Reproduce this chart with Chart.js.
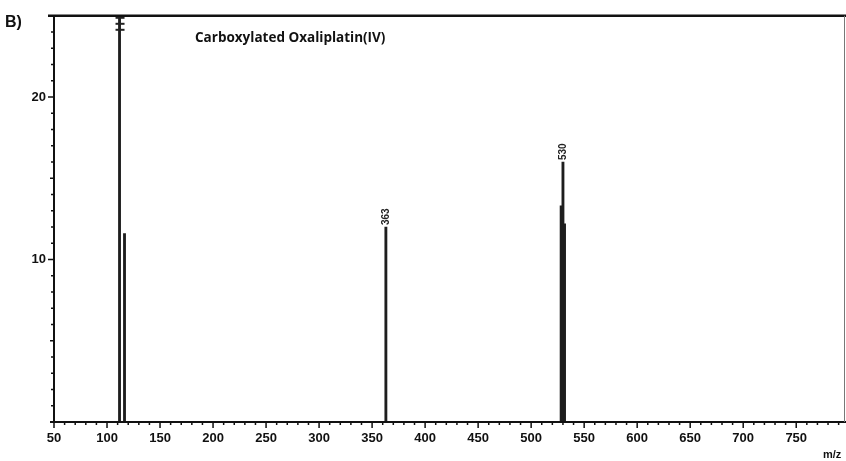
<!DOCTYPE html>
<html>
<head>
<meta charset="utf-8">
<style>
  html, body { margin: 0; padding: 0; background: #fff; }
  #wrap { width: 846px; height: 461px; position: relative; }
</style>
<script src="https://cdn.jsdelivr.net/npm/chart.js@4/dist/chart.umd.min.js"></script>
</head>
<body>
<div id="wrap"><canvas id="ms" width="846" height="461"></canvas></div>
<script>
// Mass spectrum peaks (m/z and relative intensity)
const mzValues = [111.8, 116.5, 363, 528.3, 530, 531.5];
const intensities = [100, 11.6, 12.0, 13.3, 16.0, 12.2];
// Peaks that carry an m/z annotation
const labelledPeaks = [363, 530];
// Peak running off the top of the scale (drawn with break marks)
const brokenPeak = 111.8;

const xMin = 50, xMax = 796, xMajor = 50, xMinor = 10;
const yMin = 0, yMax = 25, yMajor = 10, yMinor = 1;

const decorations = {
  id: 'decorations',
  afterDatasetsDraw(chart) {
    const ctx = chart.ctx;
    const xs = chart.scales.x, ys = chart.scales.y;
    const area = chart.chartArea;
    const meta = chart.getDatasetMeta(0);
    ctx.save();

    // peak annotations and break marks
    ctx.fillStyle = '#222';
    ctx.font = 'bold 10px "Liberation Sans", Arial, sans-serif';
    ctx.textAlign = 'left';
    ctx.textBaseline = 'middle';
    meta.data.forEach((bar, i) => {
      const mz = mzValues[i];
      if (labelledPeaks.includes(mz)) {
        ctx.save();
        ctx.translate(bar.x, bar.y - 2);
        ctx.rotate(-Math.PI / 2);
        ctx.fillText(String(mz), 0, 0);
        ctx.restore();
      }
      if (mz === brokenPeak) {
        [area.top + 1, area.top + 7, area.top + 13].forEach(y => {
          ctx.fillRect(bar.x - 4, y, 9, 2);
        });
      }
    });

    // frame and axis lines
    ctx.strokeStyle = '#111';
    ctx.lineWidth = 2.5;
    ctx.beginPath();
    ctx.moveTo(area.left - 6, area.top);
    ctx.lineTo(area.right + 1, area.top);
    ctx.stroke();
    ctx.lineWidth = 2;
    ctx.beginPath();
    ctx.moveTo(area.left, area.top);
    ctx.lineTo(area.left, area.bottom);
    ctx.moveTo(area.left - 4, area.bottom);
    ctx.lineTo(area.right + 1, area.bottom);
    ctx.stroke();
    ctx.strokeStyle = '#777';
    ctx.lineWidth = 1;
    ctx.beginPath();
    ctx.moveTo(area.right - 0.5, area.top);
    ctx.lineTo(area.right - 0.5, area.bottom);
    ctx.stroke();

    // x ticks: major every 50, minor every 10
    ctx.strokeStyle = '#111';
    ctx.lineWidth = 1.5;
    ctx.beginPath();
    for (let v = xMin; v <= xMax; v += xMinor) {
      const px = xs.getPixelForValue(v);
      const len = (v % xMajor === 0) ? 6 : 3;
      ctx.moveTo(px, area.bottom);
      ctx.lineTo(px, area.bottom + len);
    }
    // y ticks: major every 10, minor every 1
    for (let v = yMin + yMinor; v <= yMax; v += yMinor) {
      const py = ys.getPixelForValue(v);
      const len = (v % yMajor === 0) ? 6 : (v % 5 === 0 ? 4 : 3);
      ctx.moveTo(area.left, py);
      ctx.lineTo(area.left - len, py);
    }
    ctx.stroke();

    // texts
    ctx.fillStyle = '#111';
    ctx.textBaseline = 'alphabetic';
    ctx.textAlign = 'left';
    ctx.font = 'bold 13.5px "Open Sans", "Liberation Sans", sans-serif';
    ctx.fillText('Carboxylated Oxaliplatin(IV)', 195, 42);
    ctx.font = 'bold 16px "Liberation Sans", Arial, sans-serif';
    ctx.fillText('B)', 5, 27);
    ctx.font = 'bold 11px "Liberation Sans", Arial, sans-serif';
    ctx.fillText('m/z', 823, 458);
    ctx.restore();
  }
};

new Chart(document.getElementById('ms'), {
  type: 'bar',
  data: {
    datasets: [{
      data: mzValues.map((mz, i) => ({ x: mz, y: intensities[i] })),
      backgroundColor: '#1e1e1e',
      borderWidth: 0,
      barThickness: 2.2,
      categoryPercentage: 1,
      barPercentage: 1
    }]
  },
  options: {
    responsive: false,
    animation: false,
    layout: { padding: { top: 15, right: 1, left: 0, bottom: 0 } },
    plugins: { legend: { display: false }, tooltip: { enabled: false }, title: { display: false } },
    scales: {
      x: {
        type: 'linear',
        min: xMin, max: xMax,
        offset: false,
        grid: { display: false, drawTicks: false },
        border: { display: false },
        afterFit(scale) { scale.height = 39; },
        afterBuildTicks(scale) {
          const t = [];
          for (let v = xMin; v <= 750; v += xMajor) t.push({ value: v });
          scale.ticks = t;
        },
        ticks: {
          color: '#111',
          font: { family: '"Liberation Sans", Arial, sans-serif', size: 13, weight: 'bold' },
          padding: 9,
          maxRotation: 0,
          autoSkip: false
        }
      },
      y: {
        min: yMin, max: yMax,
        grid: { display: false, drawTicks: false },
        border: { display: false },
        afterFit(scale) { scale.width = 54; },
        afterBuildTicks(scale) {
          scale.ticks = [{ value: 10 }, { value: 20 }];
        },
        ticks: {
          color: '#111',
          font: { family: '"Liberation Sans", Arial, sans-serif', size: 13, weight: 'bold' },
          padding: 8
        }
      }
    }
  },
  plugins: [decorations]
});
</script>
</body>
</html>
